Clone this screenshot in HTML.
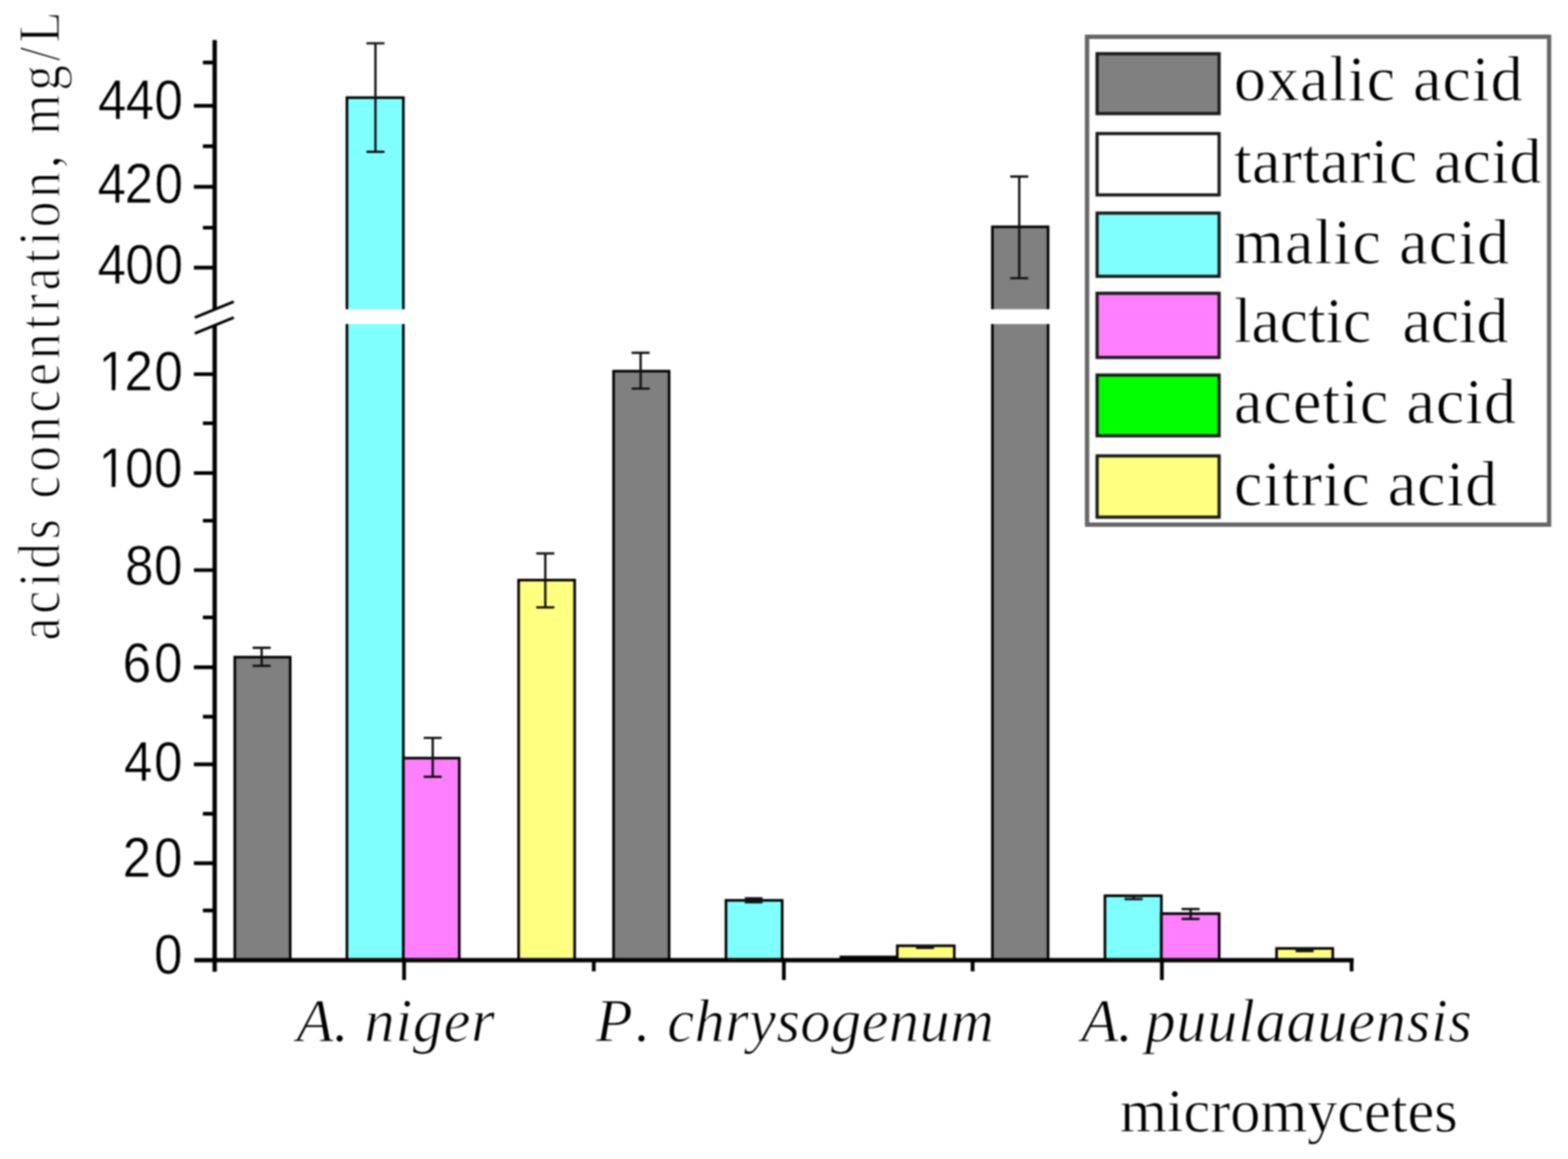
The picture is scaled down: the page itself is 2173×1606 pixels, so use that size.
<!DOCTYPE html>
<html><head><meta charset="utf-8"><title>acids concentration</title><style>
html,body{margin:0;padding:0;background:#fff;}
body{width:2173px;height:1606px;overflow:hidden;}
svg{display:block;filter:blur(0.9px);}
.tl{font-family:"Liberation Sans",Arial,sans-serif;font-size:77px;fill:#000;stroke:#fff;stroke-width:0.6px;}
.lg{font-family:"Liberation Serif","Times New Roman",serif;font-size:89px;fill:#000;stroke:#fff;stroke-width:1px;}
.xl{font-family:"Liberation Serif","Times New Roman",serif;font-style:italic;font-size:84px;fill:#000;stroke:#fff;stroke-width:1.2px;}
.mc{font-family:"Liberation Serif","Times New Roman",serif;font-size:84px;fill:#000;stroke:#fff;stroke-width:1px;}
.yl{font-family:"Liberation Serif","Times New Roman",serif;font-size:83px;fill:#000;stroke:#fff;stroke-width:1.6px;}
</style></head>
<body><svg width="2173" height="1606" viewBox="0 0 2173 1606">
<rect width="2173" height="1606" fill="#fff"/>
<rect x="1163.5" y="1324.3" width="79.2" height="7" fill="#000"/>
<rect x="325.4" y="910.6" width="76.8" height="419.8" fill="#808080" stroke="#000" stroke-width="3.6"/>
<rect x="480.8" y="135.3" width="78.2" height="1195.1" fill="#80FFFF" stroke="#000" stroke-width="3.6"/>
<rect x="477.2" y="428.5" width="85.4" height="20.5" fill="#fff"/>
<rect x="559.0" y="1050.5" width="77.5" height="279.9" fill="#FF80FF" stroke="#000" stroke-width="3.6"/>
<rect x="718.7" y="803.8" width="77.7" height="526.6" fill="#FFFF80" stroke="#000" stroke-width="3.6"/>
<rect x="850.3" y="514.3" width="77.0" height="816.1" fill="#808080" stroke="#000" stroke-width="3.6"/>
<rect x="1006.1" y="1247.6" width="77.9" height="82.8" fill="#80FFFF" stroke="#000" stroke-width="3.6"/>
<rect x="1243.5" y="1310.5" width="79.0" height="19.9" fill="#FFFF80" stroke="#000" stroke-width="3.6"/>
<rect x="1375.3" y="314.3" width="77.2" height="1016.1" fill="#808080" stroke="#000" stroke-width="3.6"/>
<rect x="1371.7" y="428.5" width="84.4" height="20.5" fill="#fff"/>
<rect x="1531.3" y="1241.2" width="78.2" height="89.2" fill="#80FFFF" stroke="#000" stroke-width="3.6"/>
<rect x="1609.5" y="1266.0" width="80.1" height="64.4" fill="#FF80FF" stroke="#000" stroke-width="3.6"/>
<rect x="1769.1" y="1314.2" width="77.9" height="16.2" fill="#FFFF80" stroke="#000" stroke-width="3.6"/>
<rect x="1032.2" y="1243.2" width="24.6" height="8.6" fill="#111"/>
<path d="M362.6 897.7V922.6M350.1 897.7H375.1M350.1 922.6H375.1" stroke="#111" stroke-width="3.2" fill="none"/>
<path d="M520.3 60.0V210.4M507.8 60.0H532.8M507.8 210.4H532.8" stroke="#111" stroke-width="3.2" fill="none"/>
<path d="M599.7 1022.5V1076.3M587.2 1022.5H612.2M587.2 1076.3H612.2" stroke="#111" stroke-width="3.2" fill="none"/>
<path d="M755.7 766.9V841.7M743.2 766.9H768.2M743.2 841.7H768.2" stroke="#111" stroke-width="3.2" fill="none"/>
<path d="M887.8 488.8V538.5M875.3 488.8H900.3M875.3 538.5H900.3" stroke="#111" stroke-width="3.2" fill="none"/>
<path d="M1282.0 1310.5V1313.5M1269.5 1310.5H1294.5M1269.5 1313.5H1294.5" stroke="#111" stroke-width="3.2" fill="none"/>
<path d="M1412.5 244.6V385.5M1400.0 244.6H1425.0M1400.0 385.5H1425.0" stroke="#111" stroke-width="3.2" fill="none"/>
<path d="M1571.0 1242.0V1246.0M1558.5 1242.0H1583.5M1558.5 1246.0H1583.5" stroke="#111" stroke-width="3.2" fill="none"/>
<path d="M1650.0 1259.6V1273.4M1637.5 1259.6H1662.5M1637.5 1273.4H1662.5" stroke="#111" stroke-width="3.2" fill="none"/>
<path d="M1808.0 1315.0V1318.0M1795.5 1315.0H1820.5M1795.5 1318.0H1820.5" stroke="#111" stroke-width="3.2" fill="none"/>
<path d="M297.5 55.5V429M297.5 451V1346.6" stroke="#000" stroke-width="6" fill="none"/>
<path d="M270 440L324 418M270 462L324 440" stroke="#000" stroke-width="4" fill="none"/>
<path d="M269.4 1330.4H1876" stroke="#000" stroke-width="6" fill="none"/>
<path d="M268.7 146.6H297.5M268.7 258.8H297.5M268.7 370.8H297.5M268.7 518.5H297.5M268.7 655.5H297.5M268.7 790.0H297.5M268.7 924.7H297.5M268.7 1059.2H297.5M268.7 1196.2H297.5M281.2 86.7H297.5M281.2 202.7H297.5M281.2 315.5H297.5M281.2 586.5H297.5M281.2 721.5H297.5M281.2 855.5H297.5M281.2 993.2H297.5M281.2 1127.7H297.5M281.2 1261.7H297.5" stroke="#000" stroke-width="5.2" fill="none"/>
<path d="M560.0 1330.4V1358M1086.3 1330.4V1358M1610.2 1330.4V1358M822.9 1330.4V1346M1347.9 1330.4V1346M1873.1 1330.4V1346" stroke="#000" stroke-width="5.2" fill="none"/>
<text transform="translate(0 164.6) scale(0.92 1)" x="147.46 189.41 232.54" class="tl">440</text>
<text transform="translate(0 281.1) scale(0.92 1)" x="146.91 187.85 232.76" class="tl">420</text>
<text transform="translate(0 392.8) scale(0.92 1)" x="146.91 188.85 232.76" class="tl">400</text>
<text transform="translate(0 540.5) scale(0.92 1)" x="148.30 187.41 232.54" class="tl">120</text>
<rect x="136.4" y="534.1" width="18.3" height="7.4" fill="#fff"/>
<rect x="159.9" y="534.1" width="15.2" height="7.4" fill="#fff"/>
<text transform="translate(0 675.1) scale(0.92 1)" x="148.30 188.20 232.11" class="tl">100</text>
<rect x="136.4" y="668.7" width="18.3" height="7.4" fill="#fff"/>
<rect x="159.9" y="668.7" width="15.2" height="7.4" fill="#fff"/>
<text transform="translate(0 809.5) scale(0.92 1)" x="188.20 232.11" class="tl">80</text>
<text transform="translate(0 945.4) scale(0.92 1)" x="184.80 232.00" class="tl">60</text>
<text transform="translate(0 1082.0) scale(0.92 1)" x="186.59 232.00" class="tl">40</text>
<text transform="translate(0 1215.1) scale(0.92 1)" x="184.80 232.00" class="tl">20</text>
<text transform="translate(0 1349.0) scale(0.92 1)" x="232.00" class="tl">0</text>
<rect x="1506.5" y="51" width="640.3" height="676" fill="#fff" stroke="#666" stroke-width="6"/>
<rect x="1520.4" y="74.4" width="169.1" height="83.0" fill="#808080" stroke="#1a1a1a" stroke-width="4.4"/>
<text x="1710" y="139.4" class="lg" textLength="400.2" lengthAdjust="spacing">oxalic acid</text>
<rect x="1520.4" y="185.1" width="169.1" height="85.0" fill="#FFFFFF" stroke="#1a1a1a" stroke-width="4.4"/>
<text x="1710" y="252.5" class="lg" textLength="426.2" lengthAdjust="spacing">tartaric acid</text>
<rect x="1520.4" y="295.3" width="169.1" height="87.6" fill="#80FFFF" stroke="#1a1a1a" stroke-width="4.4"/>
<text x="1710" y="364.5" class="lg" textLength="381.6" lengthAdjust="spacing">malic acid</text>
<rect x="1520.4" y="406.4" width="169.1" height="88.9" fill="#FF80FF" stroke="#1a1a1a" stroke-width="4.4"/>
<text x="1710" y="474.1" class="lg" textLength="380.5" lengthAdjust="spacing">lactic  acid</text>
<rect x="1520.4" y="519.7" width="169.1" height="84.2" fill="#00FF00" stroke="#1a1a1a" stroke-width="4.4"/>
<text x="1710" y="586.4" class="lg" textLength="391.1" lengthAdjust="spacing">acetic acid</text>
<rect x="1520.4" y="631.7" width="169.1" height="84.9" fill="#FFFF80" stroke="#1a1a1a" stroke-width="4.4"/>
<text x="1710" y="699.5" class="lg" textLength="364.9" lengthAdjust="spacing">citric acid</text>
<text x="411.0" y="1442.8" class="xl" textLength="72.2" lengthAdjust="spacing">A.</text>
<text x="505.1" y="1442.8" class="xl" textLength="180.5" lengthAdjust="spacing">niger</text>
<text x="825.6" y="1442.8" class="xl" textLength="75.8" lengthAdjust="spacing">P.</text>
<text x="924.7" y="1442.8" class="xl" textLength="452.7" lengthAdjust="spacing">chrysogenum</text>
<text x="1498.4" y="1442.8" class="xl" textLength="71.5" lengthAdjust="spacing">A.</text>
<text x="1587.2" y="1442.8" class="xl" textLength="452.6" lengthAdjust="spacing">puulaauensis</text>
<text x="1551.9" y="1567.8" class="mc" textLength="468.3" lengthAdjust="spacing">micromycetes</text>
<text transform="translate(81.6 887.4) rotate(-90) scale(0.86 1)" class="yl" textLength="1013.4" lengthAdjust="spacing">acids concentration, mg/L</text>
</svg></body></html>
